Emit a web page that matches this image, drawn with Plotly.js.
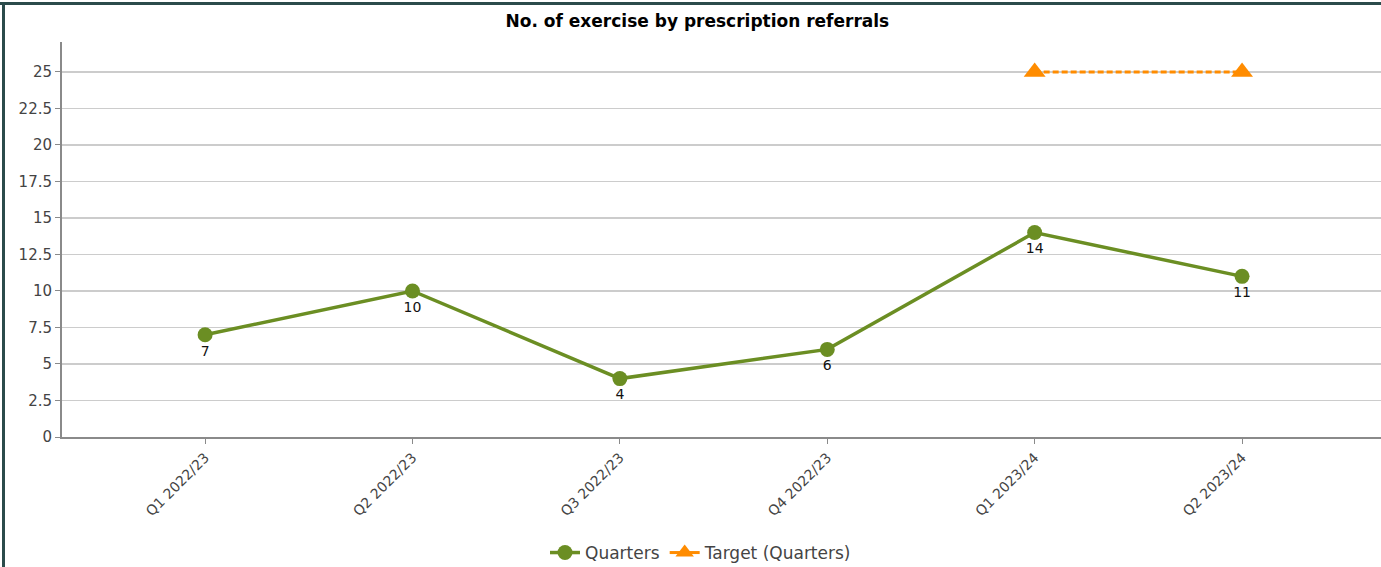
<!DOCTYPE html>
<html>
<head>
<meta charset="utf-8">
<script src="https://cdn.plot.ly/plotly-3.0.1.min.js"></script>
<style>
html,body{margin:0;padding:0;background:#fff;}
#wrap{position:relative;width:1381px;height:567px;}
#chart{width:1381px;height:567px;}
#btop{position:absolute;left:0;top:2px;width:1381px;height:3px;background:#2b4b4b;}
#bleft{position:absolute;left:2px;top:2px;width:3px;height:565px;background:#2b4b4b;}
</style>
</head>
<body>
<div id="wrap">
<div id="chart"></div>
<div id="btop"></div>
<div id="bleft"></div>
</div>
<script>
const categories = ["Q1 2022/23","Q2 2022/23","Q3 2022/23","Q4 2022/23","Q1 2023/24","Q2 2023/24"];
const quarters = [7, 10, 4, 6, 14, 11];
const targetCategories = ["Q1 2023/24","Q2 2023/24"];
const targetValues = [25, 25];
const yTicks = [0, 2.5, 5, 7.5, 10, 12.5, 15, 17.5, 20, 22.5, 25];

const font = "DejaVu Sans, Verdana, sans-serif";
const green = "#6b8e23";
const orange = "#ff8c00";

const traces = [
  {
    type: "scatter",
    mode: "lines+markers+text",
    name: "Quarters",
    x: categories,
    y: quarters,
    text: quarters.map(String),
    textposition: "bottom center",
    textfont: {family: font, size: 14, color: "#111"},
    line: {color: green, width: 3.5},
    marker: {color: green, size: 15, symbol: "circle"},
    hoverinfo: "skip",
    cliponaxis: false,
    legendrank: 1
  },
  {
    type: "scatter",
    mode: "lines+markers",
    name: "Target (Quarters)",
    x: targetCategories,
    y: targetValues,
    line: {color: orange, width: 3, dash: "6px,3px"},
    marker: {color: orange, size: 19, symbol: "triangle-up"},
    hoverinfo: "skip",
    cliponaxis: false,
    showlegend: false
  },
  {
    type: "scatter",
    mode: "lines+markers",
    name: "Target (Quarters)",
    x: [null],
    y: [null],
    line: {color: orange, width: 3},
    marker: {color: orange, size: 17, symbol: "triangle-up"},
    hoverinfo: "skip",
    legendrank: 2
  }
];

const layout = {
  width: 1381,
  height: 567,
  margin: {l: 62, r: 0, t: 42, b: 130},
  paper_bgcolor: "#ffffff",
  plot_bgcolor: "#ffffff",
  showlegend: true,
  title: {
    text: "<b>No. of exercise by prescription referrals</b>",
    font: {family: font, size: 17, color: "#000"},
    x: 0.505, xanchor: "center",
    y: 1 - 21/567, yanchor: "middle"
  },
  xaxis: {
    type: "category",
    categoryorder: "array",
    categoryarray: categories,
    range: [-0.69, 5.67],
    showgrid: false,
    showline: true,
    linecolor: "#8a8a8a",
    linewidth: 2,
    ticks: "outside",
    ticklen: 5,
    tickcolor: "#8a8a8a",
    tickangle: -45,
    tickfont: {family: font, size: 14, color: "#444"},
    zeroline: false,
    automargin: false,
    fixedrange: true
  },
  yaxis: {
    range: [0, 27.05],
    tickvals: yTicks,
    ticktext: yTicks.map(String),
    showgrid: true,
    gridcolor: "#cccccc",
    gridwidth: 1.5,
    showline: true,
    linecolor: "#8a8a8a",
    linewidth: 2,
    ticks: "outside",
    ticklen: 5,
    tickcolor: "#8a8a8a",
    tickfont: {family: font, size: 15, color: "#444"},
    zeroline: false,
    automargin: false,
    fixedrange: true
  },
  legend: {
    orientation: "h",
    xref: "container", yref: "container",
    x: 701/1381, xanchor: "center",
    y: 1 - 553/567, yanchor: "middle",
    font: {family: font, size: 17, color: "#444"},
    itemwidth: 30
  }
};

Plotly.newPlot("chart", traces, layout, {displayModeBar: false, staticPlot: true});
</script>
</body>
</html>
